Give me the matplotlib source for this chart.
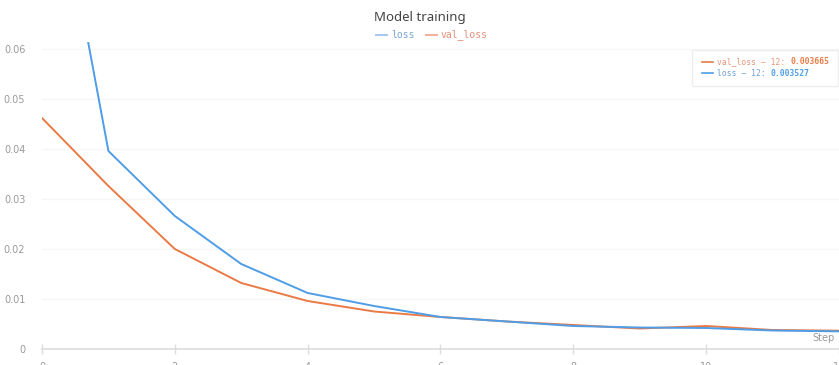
import matplotlib
matplotlib.use("Agg")
import matplotlib.pyplot as plt
from matplotlib.patches import Rectangle

# data
steps = [0, 1, 2, 3, 4, 5, 6, 7, 8, 9, 10, 11, 12]
loss = [0.111, 0.0396, 0.0266, 0.0170, 0.0112, 0.0086, 0.0064, 0.0055, 0.0046, 0.0043, 0.0042, 0.0037, 0.003527]
val_loss = [0.0462, 0.0326, 0.0200, 0.0132, 0.0096, 0.0075, 0.0064, 0.0055, 0.0048, 0.0041, 0.0046, 0.0038, 0.003665]
y_ticks = [0, 0.01, 0.02, 0.03, 0.04, 0.05, 0.06]
y_labels = ["0", "0.01", "0.02", "0.03", "0.04", "0.05", "0.06"]
x_ticks = [0, 2, 4, 6, 8, 10, 12]

BLUE = "#4f9de6"
ORANGE = "#ea7a45"
MONO = "DejaVu Sans Mono"

fig = plt.figure(figsize=(8.39, 3.65), dpi=100)
ax = fig.add_axes([42 / 839, 16 / 365, 797 / 839, 307 / 365])

ax.plot(steps, loss, color=BLUE, lw=1.4, clip_on=True, zorder=3)
ax.plot(steps, val_loss, color=ORANGE, lw=1.4, clip_on=True, zorder=2)

ax.set_xlim(0, 12)
ax.set_ylim(0, 0.0614)
ax.set_yticks(y_ticks)
ax.set_yticklabels(y_labels)
ax.set_xticks(x_ticks)
ax.set_xticklabels([str(x) for x in x_ticks])

for s in ["top", "right", "left"]:
    ax.spines[s].set_visible(False)
ax.spines["bottom"].set_color("#dddddd")
ax.spines["bottom"].set_linewidth(1.2)

ax.tick_params(axis="y", length=0, pad=12, labelsize=7, labelcolor="#999999")
ax.tick_params(axis="x", direction="inout", length=7, width=1, color="#dddddd",
               pad=6, labelsize=7, labelcolor="#999999")
ax.grid(axis="y", color="#f6f6f6", lw=1)
ax.set_axisbelow(True)

ax.text(0.995, 0.02, "Step", transform=ax.transAxes, ha="right", va="bottom",
        fontsize=7, color="#999999")

# title and top legend
fig.text(0.5, 1 - 17 / 365, "Model training", ha="center", va="center",
         fontsize=9.5, fontweight="semibold", color="#444444", family="Noto Sans")
fig.add_artist(plt.Line2D([376 / 839, 387 / 839], [1 - 35 / 365] * 2, color="#a8c8ef", lw=1.5))
fig.text(391 / 839, 1 - 35 / 365, "loss", ha="left", va="center", fontsize=7,
         family=MONO, color="#7aa6d8")
fig.add_artist(plt.Line2D([426 / 839, 437 / 839], [1 - 35 / 365] * 2, color="#f2b39a", lw=1.5))
fig.text(441 / 839, 1 - 35 / 365, "val_loss", ha="left", va="center", fontsize=7,
         family=MONO, color="#e0907a")

# hover box
fig.add_artist(Rectangle((692 / 839, 1 - 86 / 365), 146 / 839, 36 / 365,
                         transform=fig.transFigure, facecolor="white",
                         edgecolor="#eeeeee", lw=1, zorder=5))
rows = [("val_loss", "0.003665", ORANGE, "#e8967a", 1 - 62 / 365),
        ("loss", "0.003527", BLUE, "#6f9fd8", 1 - 73 / 365)]
for name, val, lc, tc, yy in rows:
    fig.add_artist(plt.Line2D([702 / 839, 713 / 839], [yy, yy], color=lc, lw=1.2, zorder=6))
    t = fig.text(717 / 839, yy, f"{name} \u2212 12: ", ha="left", va="center",
                 fontsize=5.8, family=MONO, color=tc, zorder=6)
    fig.canvas.draw()
    bb = t.get_window_extent()
    fig.text(bb.x1 / fig.bbox.width, yy, val, ha="left", va="center", fontsize=5.8,
             family=MONO, fontweight="bold", color=lc, zorder=6)

fig.savefig("out.png", dpi=100)
